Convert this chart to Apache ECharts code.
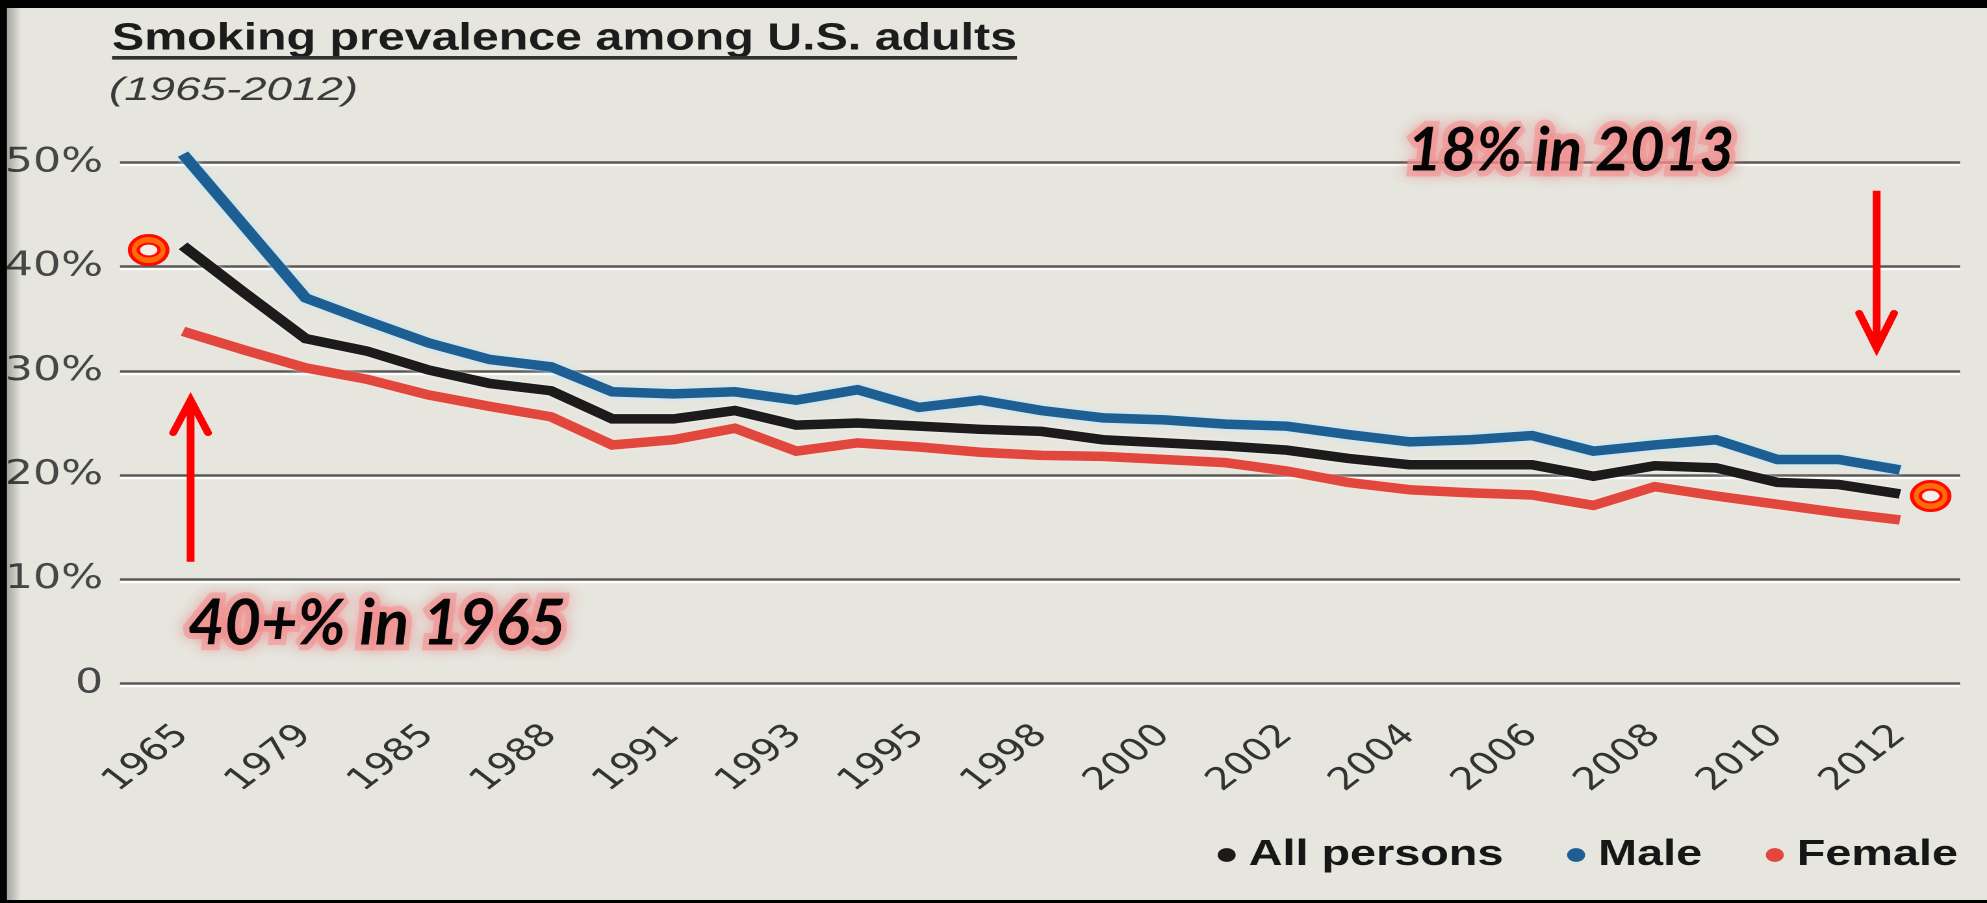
<!DOCTYPE html>
<html>
<head>
<meta charset="utf-8">
<title>Smoking prevalence among U.S. adults</title>
<script src="https://cdn.jsdelivr.net/npm/echarts@6/dist/echarts.min.js"></script>
<style>
  html, body { margin: 0; padding: 0; width: 1987px; height: 903px; overflow: hidden; background: #000; }
  /* the chart is laid out on a narrower canvas and widened horizontally */
  #chart { position: absolute; left: 0; top: 0; width: 1529px; height: 903px;
           transform: scaleX(1.29954); transform-origin: 0 0; }
</style>
</head>
<body>
<div id="chart"></div>
<script>
// ---- data -------------------------------------------------------------
const years = ['1965','1974','1979','1983','1985','1987','1988','1990','1991','1992',
               '1993','1994','1995','1997','1998','1999','2000','2001','2002','2003',
               '2004','2005','2006','2007','2008','2009','2010','2011','2012'];

const allPersons = [42.0, 37.5, 33.1, 31.9, 30.1, 28.8, 28.1, 25.4, 25.4, 26.2,
                    24.8, 25.0, 24.7, 24.4, 24.2, 23.4, 23.1, 22.8, 22.4, 21.6,
                    21.0, 21.0, 21.0, 19.9, 20.9, 20.7, 19.3, 19.1, 18.2];

const male = [50.8, 43.9, 37.0, 34.8, 32.7, 31.1, 30.4, 28.0, 27.8, 28.0,
              27.2, 28.2, 26.5, 27.2, 26.2, 25.5, 25.3, 24.9, 24.7, 23.9,
              23.2, 23.4, 23.8, 22.3, 22.9, 23.4, 21.5, 21.5, 20.5];

const female = [33.8, 32.0, 30.3, 29.2, 27.7, 26.6, 25.6, 22.9, 23.4, 24.5,
                22.3, 23.1, 22.7, 22.2, 21.9, 21.8, 21.5, 21.2, 20.4, 19.3,
                18.6, 18.3, 18.1, 17.1, 18.9, 18.0, 17.2, 16.4, 15.7];

const yTickLabels = ['0', '10%', '20%', '30%', '40%', '50%'];
const seriesNames = ['All persons', 'Male', 'Female'];

// highlighted levels
const MARK_1965 = 41.6;   // "40+% in 1965"
const MARK_2013 = 18;     // "18% in 2013"

// ---- layout helpers ---------------------------------------------------
const K = 1987 / 1529;          // horizontal widening applied by CSS
const px = v => v / K;          // page x -> canvas x
const W = 1529;
const PLOT_TOP = 162.5;
const PLOT_BOTTOM = 683.6;

const COLORS = { all: '#1c1a1a', male: '#1d5f93', female: '#e1473d' };

const measureCtx = document.createElement('canvas').getContext('2d');
function fitScale(text, font, target) {
  measureCtx.font = font;
  return target / measureCtx.measureText(text).width;
}

const chart = echarts.init(document.getElementById('chart'), null,
                           { renderer: 'canvas', devicePixelRatio: 2 });

function lineSeries(name, data, color, halo) {
  return {
    name: name, type: 'line', data: data,
    xAxisIndex: 1, yAxisIndex: 1,
    symbol: 'none', showSymbol: false, clip: false, smooth: false,
    color: color,
    lineStyle: { width: 9.5, color: color, shadowBlur: 4, shadowColor: halo, cap: 'butt', join: 'miter' },
    emphasis: { disabled: true },
    silent: true
  };
}

const option = {
  animation: false,
  backgroundColor: '#e6e6df',
  grid: [
    { left: px(120), right: W - px(1960), top: PLOT_TOP, bottom: 903 - PLOT_BOTTOM, outerBoundsMode: 'none' },
    { left: px(183), right: W - px(1900), top: PLOT_TOP, bottom: 903 - PLOT_BOTTOM, outerBoundsMode: 'none' }
  ],
  xAxis: [
    { gridIndex: 0, type: 'value', min: 0, max: 1, show: false },
    {
      gridIndex: 1, type: 'category', data: years, boundaryGap: false,
      axisLine: { show: false }, axisTick: { show: false }, splitLine: { show: false },
      axisLabel: {
        interval: 1, rotate: 45, margin: 47,
        fontFamily: 'DejaVu Sans', fontSize: 31, color: '#333333'
      }
    }
  ],
  yAxis: [
    {
      gridIndex: 0, type: 'value', min: 0, max: 50, interval: 10,
      axisLine: { show: false }, axisTick: { show: false },
      axisLabel: {
        formatter: v => yTickLabels[Math.round(v / 10)],
        fontFamily: 'DejaVu Sans', fontSize: 34, color: '#474747',
        margin: 13, padding: [10, 0, 0, 0]
      },
      splitLine: {
        show: true,
        lineStyle: { color: '#5a5955', width: 2.6, shadowColor: 'rgba(255,255,255,0.95)', shadowOffsetY: 2.4, shadowBlur: 0 }
      }
    },
    { gridIndex: 1, type: 'value', min: 0, max: 50, interval: 10, show: false }
  ],
  legend: {
    data: seriesNames,
    left: 937, top: 837, padding: 0,
    orient: 'horizontal',
    icon: 'path://M0,10A10,10,0,1,1,20,10A10,10,0,1,1,0,10Z',
    itemWidth: px(18), itemHeight: 17, itemGap: 49,
    selectedMode: false,
    itemStyle: { borderWidth: 0 },
    textStyle: {
      fontFamily: 'Liberation Sans', fontWeight: 'bold', fontSize: 36,
      color: '#161616', padding: [0, 0, 0, 5]
    }
  },
  series: [
    lineSeries(seriesNames[0], allPersons, COLORS.all, 'rgba(255,255,255,0.6)'),
    lineSeries(seriesNames[1], male, COLORS.male, 'rgba(185,232,255,0.95)'),
    lineSeries(seriesNames[2], female, COLORS.female, 'rgba(255,235,225,0.8)')
  ]
};

chart.setOption(option);

// ---- annotations --------------------------------------------------------
const xFirst = chart.convertToPixel({ xAxisIndex: 1 }, years[0]);
const xLast = chart.convertToPixel({ xAxisIndex: 1 }, years[years.length - 1]);
const step = (xLast - xFirst) / (years.length - 1);
const yMark1965 = chart.convertToPixel({ yAxisIndex: 1 }, MARK_1965);
const yMark2013 = chart.convertToPixel({ yAxisIndex: 1 }, MARK_2013);

function ring(cx, cy) {
  return {
    type: 'group', x: cx, y: cy, z: 120, silent: true,
    children: [
      { type: 'circle', shape: { cx: 0, cy: 0, r: 14.5 },
        style: { fill: '#ff6a0a', stroke: '#ff0a00', lineWidth: 3 } },
      { type: 'circle', shape: { cx: 0, cy: 0, r: 8 }, scaleY: 0.8,
        style: { fill: '#f6eee8', stroke: '#ff0a00', lineWidth: 2.6 } }
    ]
  };
}

function glowText(txt, font, left, y, target) {
  const s = fitScale(txt, font, target);
  return [
    { type: 'text', x: left, y: y, scaleX: s, z: 110, silent: true,
      style: { text: txt, font: font, align: 'left', verticalAlign: 'middle',
               fill: 'rgba(243,150,150,0.85)', stroke: 'rgba(243,150,150,0.6)', lineWidth: 12, lineJoin: 'round',
               textShadowBlur: 12, textShadowColor: 'rgba(240,125,125,0.75)',
               shadowBlur: 12, shadowColor: 'rgba(240,125,125,0.75)' } },
    { type: 'text', x: left, y: y, scaleX: s, z: 111, silent: true,
      style: { text: txt, font: font, align: 'left', verticalAlign: 'middle', fill: '#050505' } }
  ];
}

function arrow(x, yTail, yTip, yBarb, half) {
  return [
    { type: 'line', z: 115, silent: true,
      shape: { x1: x, y1: yTail, x2: x, y2: yTip + (yTip < yTail ? 4 : -4) },
      style: { stroke: '#ff0000', lineWidth: 6, lineCap: 'butt' } },
    { type: 'polyline', z: 115, silent: true,
      shape: { points: [[x - half, yBarb], [x, yTip], [x + half, yBarb]] },
      style: { stroke: '#ff0000', fill: null, lineWidth: 6, lineCap: 'round', lineJoin: 'miter' } }
  ];
}

const titleText = 'Smoking prevalence among U.S. adults';
const titleFont = 'bold 38px "Liberation Sans", Arial, sans-serif';
const subText = '(1965-2012)';
const subFont = 'italic 32px "Liberation Sans", Arial, sans-serif';
const noteFont1 = 'italic bold 63px Lato, "Open Sans", sans-serif';
const noteFont2 = 'italic bold 60px Lato, "Open Sans", sans-serif';

const graphics = [
  // frame
  { type: 'rect', z: 200, silent: true, shape: { x: 0, y: 0, width: W, height: 8 }, style: { fill: '#000' } },
  { type: 'rect', z: 200, silent: true, shape: { x: 0, y: 0, width: px(7), height: 903 }, style: { fill: '#000' } },
  { type: 'rect', z: 200, silent: true, shape: { x: 0, y: 900, width: W, height: 3 }, style: { fill: '#000' } },
  { type: 'rect', z: 199, silent: true, shape: { x: px(7), y: 0, width: px(14), height: 903 },
    style: { fill: new echarts.graphic.LinearGradient(0, 0, 1, 0, [
      { offset: 0, color: 'rgba(0,0,0,0.28)' }, { offset: 1, color: 'rgba(0,0,0,0)' }]) } },
  // title block
  { type: 'text', x: px(112), y: 39, scaleX: fitScale(titleText, titleFont, px(1017) - px(112)), z: 100, silent: true,
    style: { text: titleText, font: titleFont, fill: '#1c1c1c', align: 'left', verticalAlign: 'middle' } },
  { type: 'rect', z: 100, silent: true,
    shape: { x: px(112), y: 56, width: px(1017) - px(112), height: 3.6 }, style: { fill: '#333333' } },
  { type: 'text', x: px(109), y: 91, scaleX: fitScale(subText, subFont, px(358) - px(109)), z: 100, silent: true,
    style: { text: subText, font: subFont, fill: '#3a3a3a', align: 'left', verticalAlign: 'middle' } },
  // highlighted levels
  ring(xFirst - 0.56 * step, yMark1965),
  ring(xLast + 0.5 * step, yMark2013),
  ...arrow(px(190.6), 561.7, 400, 433, px(17.5)),
  ...arrow(px(1876.6), 190.7, 348, 313, px(17.5)),
  ...glowText('40+% in 1965', noteFont1, px(188), 624, px(566) - px(188)),
  ...glowText('18% in 2013', noteFont2, px(1407), 151, px(1734) - px(1407))
];

chart.setOption({ graphic: graphics });
</script>
</body>
</html>
